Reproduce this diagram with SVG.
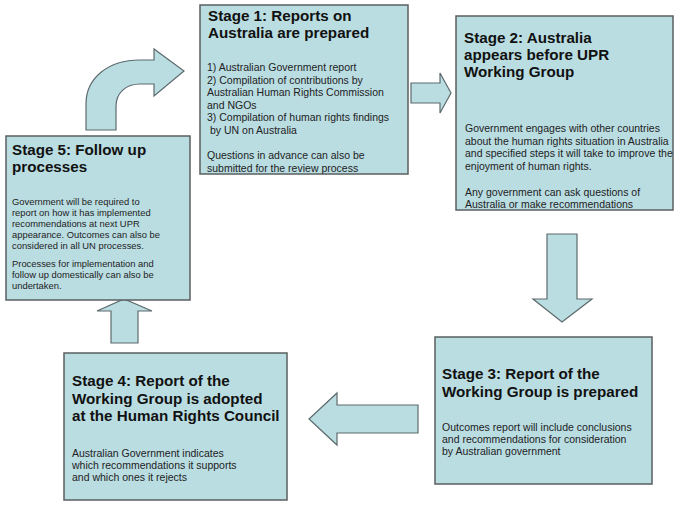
<svg xmlns="http://www.w3.org/2000/svg" width="686" height="507" viewBox="0 0 686 507">
<style>
.box{fill:#badde2;stroke:#5a5f60;stroke-width:1.5}
.arr{fill:#badde2;stroke:#5d6a6d;stroke-width:1.2;stroke-linejoin:miter}
.t{font-family:"Liberation Sans",Arial,sans-serif;font-weight:bold;font-size:15.2px;fill:#111}
.b{font-family:"Liberation Sans",Arial,sans-serif;font-size:10.5px;fill:#222}
.s{font-family:"Liberation Sans",Arial,sans-serif;font-size:9.4px;fill:#222}
</style>
<rect width="686" height="507" fill="#fff"/>
<g id="connectors">
<path class="arr" d="M86,130 L86,104 C86,78 108,60 140,60 L154,60 L154,49 L184,71 L154,96 L154,84 L140,84 C126,84 116,93 116,106 L116,130 Z"/>
<path class="arr" d="M411,83 L440,83 L440,73 L451,93 L440,113 L440,103 L411,103 Z"/>
<path class="arr" d="M547,234 L577,234 L577,299 L592,299 L562,322 L533,299 L547,299 Z"/>
<path class="arr" d="M418,405 L337,405 L337,393 L309,419 L337,445 L337,433 L418,433 Z"/>
<path class="arr" d="M111,343 L111,311 L97,311 L124,299 L152,311 L138,311 L138,343 Z"/>
</g>
<g id="stage1">
<rect class="box" x="200" y="5" width="208" height="169"/>
<text class="t" x="208" y="21">Stage 1: Reports on</text>
<text class="t" x="208" y="38">Australia are prepared</text>
<text class="b" x="207" y="71">1) Australian Government report</text>
<text class="b" x="207" y="83.5">2) Compilation of contributions by</text>
<text class="b" x="207" y="96">Australian Human Rights Commission</text>
<text class="b" x="207" y="108.5">and NGOs</text>
<text class="b" x="207" y="121">3) Compilation of human rights findings</text>
<text class="b" x="210" y="133.5">by UN on Australia</text>
<text class="b" x="207" y="159">Questions in advance can also be</text>
<text class="b" x="207" y="171.5">submitted for the review process</text>
</g>
<g id="stage2">
<rect class="box" x="456" y="16" width="217" height="194"/>
<text class="t" x="464" y="43">Stage 2: Australia</text>
<text class="t" x="464" y="60">appears before UPR</text>
<text class="t" x="464" y="77">Working Group</text>
<text class="b" x="465" y="132">Government engages with other countries</text>
<text class="b" x="465" y="144.5">about the human rights situation in Australia</text>
<text class="b" x="465" y="157">and specified steps it will take to improve the</text>
<text class="b" x="465" y="169.5">enjoyment of human rights.</text>
<text class="b" x="465" y="195.5">Any government can ask questions of</text>
<text class="b" x="465" y="208">Australia or make recommendations</text>
</g>
<g id="stage3">
<rect class="box" x="435" y="337" width="217" height="147"/>
<text class="t" x="442" y="379">Stage 3: Report of the</text>
<text class="t" x="442" y="396.5">Working Group is prepared</text>
<text class="b" x="442" y="430.5">Outcomes report will include conclusions</text>
<text class="b" x="442" y="443">and recommendations for consideration</text>
<text class="b" x="442" y="455">by Australian government</text>
</g>
<g id="stage4">
<rect class="box" x="64" y="353" width="223" height="147"/>
<text class="t" x="72" y="386">Stage 4: Report of the</text>
<text class="t" x="72" y="403.5">Working Group is adopted</text>
<text class="t" x="72" y="421">at the Human Rights Council</text>
<text class="b" x="72" y="457">Australian Government indicates</text>
<text class="b" x="72" y="469">which recommendations it supports</text>
<text class="b" x="72" y="481">and which ones it rejects</text>
</g>
<g id="stage5">
<rect class="box" x="6" y="136" width="184" height="164"/>
<text class="t" x="12" y="155">Stage 5: Follow up</text>
<text class="t" x="12" y="172">processes</text>
<text class="s" x="12" y="204.5">Government will be required to</text>
<text class="s" x="12" y="215.5">report on how it has implemented</text>
<text class="s" x="12" y="226.5">recommendations at next UPR</text>
<text class="s" x="12" y="237.5">appearance. Outcomes can also be</text>
<text class="s" x="12" y="248.5">considered in all UN processes.</text>
<text class="s" x="12" y="266.5">Processes for implementation and</text>
<text class="s" x="12" y="277.5">follow up domestically can also be</text>
<text class="s" x="12" y="288.5">undertaken.</text>
</g>
</svg>
